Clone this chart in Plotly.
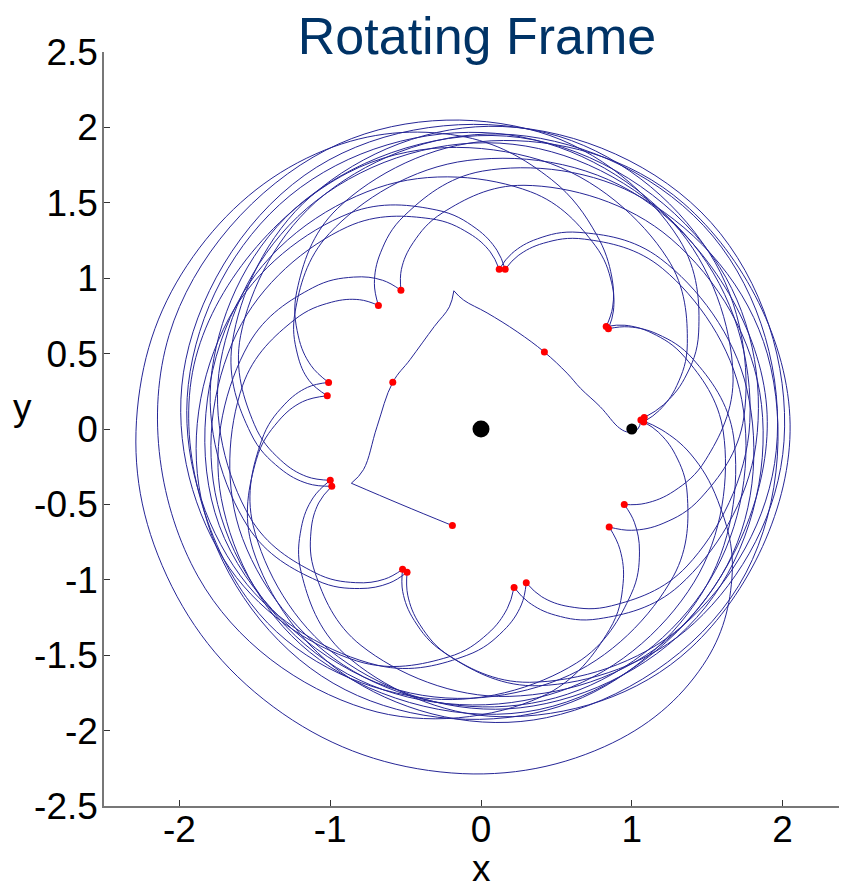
import plotly.graph_objects as go

# ---------------- axis ticks ----------------
x_ticks = [-2, -1, 0, 1, 2]
x_tick_labels = ['-2', '-1', '0', '1', '2']
y_ticks = [-2.5, -2, -1.5, -1, -0.5, 0, 0.5, 1, 1.5, 2, 2.5]
y_tick_labels = ['-2.5', '-2', '-1.5', '-1', '-0.5', '0', '0.5', '1', '1.5', '2', '2.5']

# ---------------- bodies (polar: angle deg, radius) ----------------
body_theta = [0, 0]
body_r = [0, 1]

# ---------------- transfer path (polar) ----------------
transfer_a_theta = [253.5, 223.3, 202.7]
transfer_a_r = [0.668, 0.729, 0.932]
transfer_b_theta = [202.7, 199.1, 178.8, 152.1, 135.6, 114.5, 104.5, 101.1]
transfer_b_r = [0.932, 0.825, 0.690, 0.662, 0.658, 0.747, 0.837, 0.934]
transfer_c_theta = [101.1, 97.7, 87.0, 69.6, 50.5, 33.0, 22.2, 10.6, 0.3, -1.2, 0.0, 3.2]
transfer_c_r = [0.934, 0.863, 0.771, 0.688, 0.661, 0.680, 0.713, 0.804, 0.920, 0.980, 1.040, 1.062]

# ---------------- loop arcs between periapsis cusps ----------------
arc_01_theta = [3.2, -0.3, -6.8, -16.8, -29.8, -46.8, -68.8, -96.8, -126.8, -156.8, -185.0, -212.7, -240.7, -265.7, -285.7, -300.7, -310.7, -317.2, -320.7]
arc_01_r = [1.062, 1.200, 1.400, 1.640, 1.920, 2.150, 2.260, 2.290, 2.300, 2.300, 2.280, 2.220, 2.120, 1.950, 1.720, 1.500, 1.330, 1.190, 1.073]
arc_02_theta = [39.3, 35.8, 29.3, 19.3, -0.7, -35.7, -75.7, -118.6, -161.5, -201.5, -236.5, -256.5, -266.5, -273.0, -276.5]
arc_02_r = [1.073, 1.176, 1.300, 1.434, 1.607, 1.740, 1.819, 1.85, 1.819, 1.740, 1.607, 1.434, 1.300, 1.176, 1.067]
arc_03_theta = [83.5, 80.0, 73.5, 63.5, 43.5, 8.5, -31.5, -78.3, -125.0, -165.0, -200.0, -220.0, -230.0, -236.5, -240.0]
arc_03_r = [1.067, 1.183, 1.315, 1.457, 1.641, 1.783, 1.867, 1.90, 1.867, 1.783, 1.641, 1.457, 1.315, 1.183, 1.062]
arc_04_theta = [120.0, 116.5, 110.0, 100.0, 80.0, 45.0, 5.0, -38.5, -82.0, -122.0, -157.0, -177.0, -187.0, -193.5, -197.0]
arc_04_r = [1.062, 1.183, 1.315, 1.457, 1.641, 1.783, 1.867, 1.90, 1.867, 1.783, 1.641, 1.457, 1.315, 1.183, 1.057]
arc_05_theta = [163.0, 159.5, 153.0, 143.0, 123.0, 88.0, 48.0, 0.9, -46.2, -86.2, -121.2, -141.2, -151.2, -157.7, -161.2]
arc_05_r = [1.057, 1.204, 1.360, 1.528, 1.745, 1.912, 2.011, 2.05, 2.011, 1.912, 1.745, 1.528, 1.360, 1.204, 1.056]
arc_06_theta = [198.8, 195.3, 188.8, 178.8, 158.8, 123.8, 83.8, 39.8, -4.2, -44.2, -79.2, -99.2, -109.2, -115.7, -119.2]
arc_06_r = [1.056, 1.197, 1.345, 1.504, 1.710, 1.869, 1.963, 2.00, 1.963, 1.869, 1.710, 1.504, 1.345, 1.197, 1.066]
arc_07_theta = [240.8, 237.3, 230.8, 220.8, 200.8, 165.8, 125.8, 83.6, 41.4, 1.4, -33.6, -53.6, -63.6, -70.1, -73.6]
arc_07_r = [1.066, 1.183, 1.315, 1.457, 1.641, 1.783, 1.867, 1.90, 1.867, 1.783, 1.641, 1.457, 1.315, 1.183, 1.063]
arc_08_theta = [286.4, 282.9, 276.4, 266.4, 246.4, 211.4, 171.4, 129.3, 87.2, 47.2, 12.2, -7.8, -17.8, -24.3, -27.8]
arc_08_r = [1.063, 1.197, 1.345, 1.504, 1.710, 1.869, 1.963, 2.00, 1.963, 1.869, 1.710, 1.504, 1.345, 1.197, 1.074]
arc_09_theta = [332.2, 328.7, 322.2, 312.2, 292.2, 257.2, 217.2, 167.4, 117.5, 77.5, 42.5, 22.5, 12.5, 6.0, 2.5]
arc_09_r = [1.074, 1.190, 1.330, 1.481, 1.676, 1.826, 1.915, 1.95, 1.915, 1.826, 1.676, 1.481, 1.330, 1.190, 1.080]
arc_10_theta = [2.5, -1.0, -7.5, -17.5, -37.5, -72.5, -112.5, -159.7, -206.8, -246.8, -281.8, -301.8, -311.8, -318.3, -321.8]
arc_10_r = [1.080, 1.176, 1.300, 1.434, 1.607, 1.740, 1.819, 1.85, 1.819, 1.740, 1.607, 1.434, 1.300, 1.176, 1.075]
arc_11_theta = [38.2, 34.7, 28.2, 18.2, -1.8, -36.8, -76.8, -120.2, -163.6, -203.6, -238.6, -258.6, -268.6, -275.1, -278.6]
arc_11_r = [1.075, 1.190, 1.330, 1.481, 1.676, 1.826, 1.915, 1.95, 1.915, 1.826, 1.676, 1.481, 1.330, 1.190, 1.072]
arc_12_theta = [81.4, 77.9, 71.4, 61.4, 41.4, 6.4, -33.6, -74.5, -115.3, -155.3, -190.3, -210.3, -220.3, -226.8, -230.3]
arc_12_r = [1.072, 1.176, 1.300, 1.434, 1.607, 1.740, 1.819, 1.85, 1.819, 1.740, 1.607, 1.434, 1.300, 1.176, 1.065]
arc_13_theta = [129.7, 126.2, 119.7, 109.7, 89.7, 54.7, 14.7, -31.3, -77.2, -117.2, -152.2, -172.2, -182.2, -188.7, -192.2]
arc_13_r = [1.065, 1.197, 1.345, 1.504, 1.710, 1.869, 1.963, 2.00, 1.963, 1.869, 1.710, 1.504, 1.345, 1.197, 1.043]
arc_14_theta = [167.8, 164.3, 157.8, 147.8, 127.8, 92.8, 52.8, 4.4, -44.0, -84.0, -119.0, -139.0, -149.0, -155.5, -159.0]
arc_14_r = [1.043, 1.183, 1.315, 1.457, 1.641, 1.783, 1.867, 1.90, 1.867, 1.783, 1.641, 1.457, 1.315, 1.183, 1.060]
arc_15_theta = [201.0, 197.5, 191.0, 181.0, 161.0, 126.0, 86.0, 41.9, -2.3, -42.3, -77.3, -97.3, -107.3, -113.8, -117.3]
arc_15_r = [1.060, 1.204, 1.360, 1.528, 1.745, 1.912, 2.011, 2.05, 2.011, 1.912, 1.745, 1.528, 1.360, 1.204, 1.069]
arc_16_theta = [242.7, 239.2, 232.7, 222.7, 202.7, 167.7, 127.7, 82.3, 36.8, -3.2, -38.2, -58.2, -68.2, -74.7, -78.2]
arc_16_r = [1.069, 1.190, 1.330, 1.481, 1.676, 1.826, 1.915, 1.95, 1.915, 1.826, 1.676, 1.481, 1.330, 1.190, 1.073]
arc_17_theta = [281.8, 278.3, 271.8, 261.8, 241.8, 206.8, 166.8, 122.2, 77.6, 37.6, 2.6, -17.4, -27.4, -33.9, -37.4]
arc_17_r = [1.073, 1.204, 1.360, 1.528, 1.745, 1.912, 2.011, 2.05, 2.011, 1.912, 1.745, 1.528, 1.360, 1.204, 1.070]
arc_18_theta = [322.6, 319.1, 312.6, 302.6, 282.6, 247.6, 207.6, 163.3, 119.0, 79.0, 44.0, 24.0, 14.0, 7.5, 4.0]
arc_18_r = [1.070, 1.219, 1.392, 1.580, 1.821, 2.007, 2.116, 2.16, 2.116, 2.007, 1.821, 1.580, 1.392, 1.219, 1.085]

# ---------------- red marker points (polar) ----------------
dot_theta = [3.2, 2.5, 4.0, 39.3, 38.2, 83.5, 81.4, 120.0, 129.7, 163.0, 167.8, 198.8, 201.0,
             240.8, 242.7, 286.4, 281.8, 332.2, 322.6, 50.5, 152.1, 253.5]
dot_r = [1.062, 1.080, 1.085, 1.073, 1.075, 1.067, 1.072, 1.062, 1.065, 1.057, 1.043, 1.056, 1.060,
         1.066, 1.069, 1.063, 1.073, 1.074, 1.070, 0.661, 0.662, 0.668]

segments = [
    (transfer_a_theta, transfer_a_r), (transfer_b_theta, transfer_b_r), (transfer_c_theta, transfer_c_r),
    (arc_01_theta, arc_01_r), (arc_02_theta, arc_02_r), (arc_03_theta, arc_03_r),
    (arc_04_theta, arc_04_r), (arc_05_theta, arc_05_r), (arc_06_theta, arc_06_r),
    (arc_07_theta, arc_07_r), (arc_08_theta, arc_08_r), (arc_09_theta, arc_09_r),
    (arc_10_theta, arc_10_r), (arc_11_theta, arc_11_r), (arc_12_theta, arc_12_r),
    (arc_13_theta, arc_13_r), (arc_14_theta, arc_14_r), (arc_15_theta, arc_15_r),
    (arc_16_theta, arc_16_r), (arc_17_theta, arc_17_r), (arc_18_theta, arc_18_r),
]

# ---------------- geometry (page has an 8px body margin) ----------------
OFF = 8
W, H = 847 - OFF, 886 - OFF
ML, MR, MT, MB = 104 - OFF, 0, 52 - OFF, 80
PW, PH = W - ML - MR, H - MT - MB
PX_PER_UNIT = PH / 5.0
X0 = -2.5
X1 = X0 + PW / PX_PER_UNIT
R_MAX = 2.4
cx_px = (0 - X0) * PX_PER_UNIT
cy_px = PH / 2.0
half = R_MAX * PX_PER_UNIT
dom_x = [(cx_px - half) / PW, (cx_px + half) / PW]
dom_y = [(cy_px - half) / PH, (cy_px + half) / PH]

LINE_COLOR = 'rgb(38,38,150)'
FONT = 'Arial, Liberation Sans, sans-serif'

fig = go.Figure()

fig.add_trace(go.Scatter(x=[0], y=[0], mode='markers', marker=dict(opacity=0),
                         hoverinfo='skip', showlegend=False))

for th, rr in segments:
    fig.add_trace(go.Scatterpolar(theta=th, r=rr, mode='lines', subplot='polar',
                                  line=dict(color=LINE_COLOR, width=1, shape='spline', smoothing=1.1),
                                  hoverinfo='skip', showlegend=False))

fig.add_trace(go.Scatterpolar(theta=body_theta, r=body_r, mode='markers', subplot='polar',
                              marker=dict(color='rgb(0,0,0)', size=[17, 11], opacity=1,
                                          line=dict(width=0)),
                              showlegend=False))
fig.add_trace(go.Scatterpolar(theta=dot_theta, r=dot_r, mode='markers', subplot='polar',
                              marker=dict(color='rgb(255,0,0)', size=7, line=dict(width=0)),
                              showlegend=False))

fig.update_layout(
    width=W, height=H,
    margin=dict(l=ML, r=MR, t=MT, b=MB),
    paper_bgcolor='white', plot_bgcolor='white',
    showlegend=False,
    font=dict(family=FONT, color='black'),
    title=dict(text='Rotating Frame', x=(477 - OFF) / W, xanchor='center',
               y=1 - (36 - OFF) / H, yanchor='middle', yref='container',
               font=dict(family=FONT, size=52, color='#003366')),
    xaxis=dict(range=[X0, X1], tickvals=x_ticks, ticktext=x_tick_labels,
               ticks='inside', ticklen=6, tickcolor='#333', tickwidth=1,
               ticklabelstandoff=-10,
               showline=True, linecolor='#777', linewidth=1.5, mirror=False,
               showgrid=False, zeroline=False, tickfont=dict(size=37, family=FONT, color='black')),
    yaxis=dict(range=[-2.5, 2.5], tickvals=y_ticks, ticktext=y_tick_labels,
               ticks='inside', ticklen=6, tickcolor='#333', tickwidth=1,
               ticklabelstandoff=-3,
               showline=True, linecolor='#777', linewidth=1.5, mirror=False,
               showgrid=False, zeroline=False, tickfont=dict(size=37, family=FONT, color='black')),
    polar=dict(domain=dict(x=dom_x, y=dom_y), bgcolor='rgba(0,0,0,0)',
               radialaxis=dict(range=[0, R_MAX], visible=False, showgrid=False),
               angularaxis=dict(visible=False, showgrid=False, rotation=0, direction='counterclockwise')),
    annotations=[
        dict(text='x', xref='x', x=0, yref='paper', y=(PH - (869 - OFF - MT)) / PH,
             xanchor='center', yanchor='middle', showarrow=False,
             font=dict(size=37, family=FONT, color='black')),
        dict(text='y', xref='paper', x=(22 - OFF - ML) / PW, yref='paper', y=(PH - (407 - OFF - MT)) / PH,
             xanchor='center', yanchor='middle', showarrow=False,
             font=dict(size=37, family=FONT, color='black')),
    ],
)

fig.write_html('out.html')
